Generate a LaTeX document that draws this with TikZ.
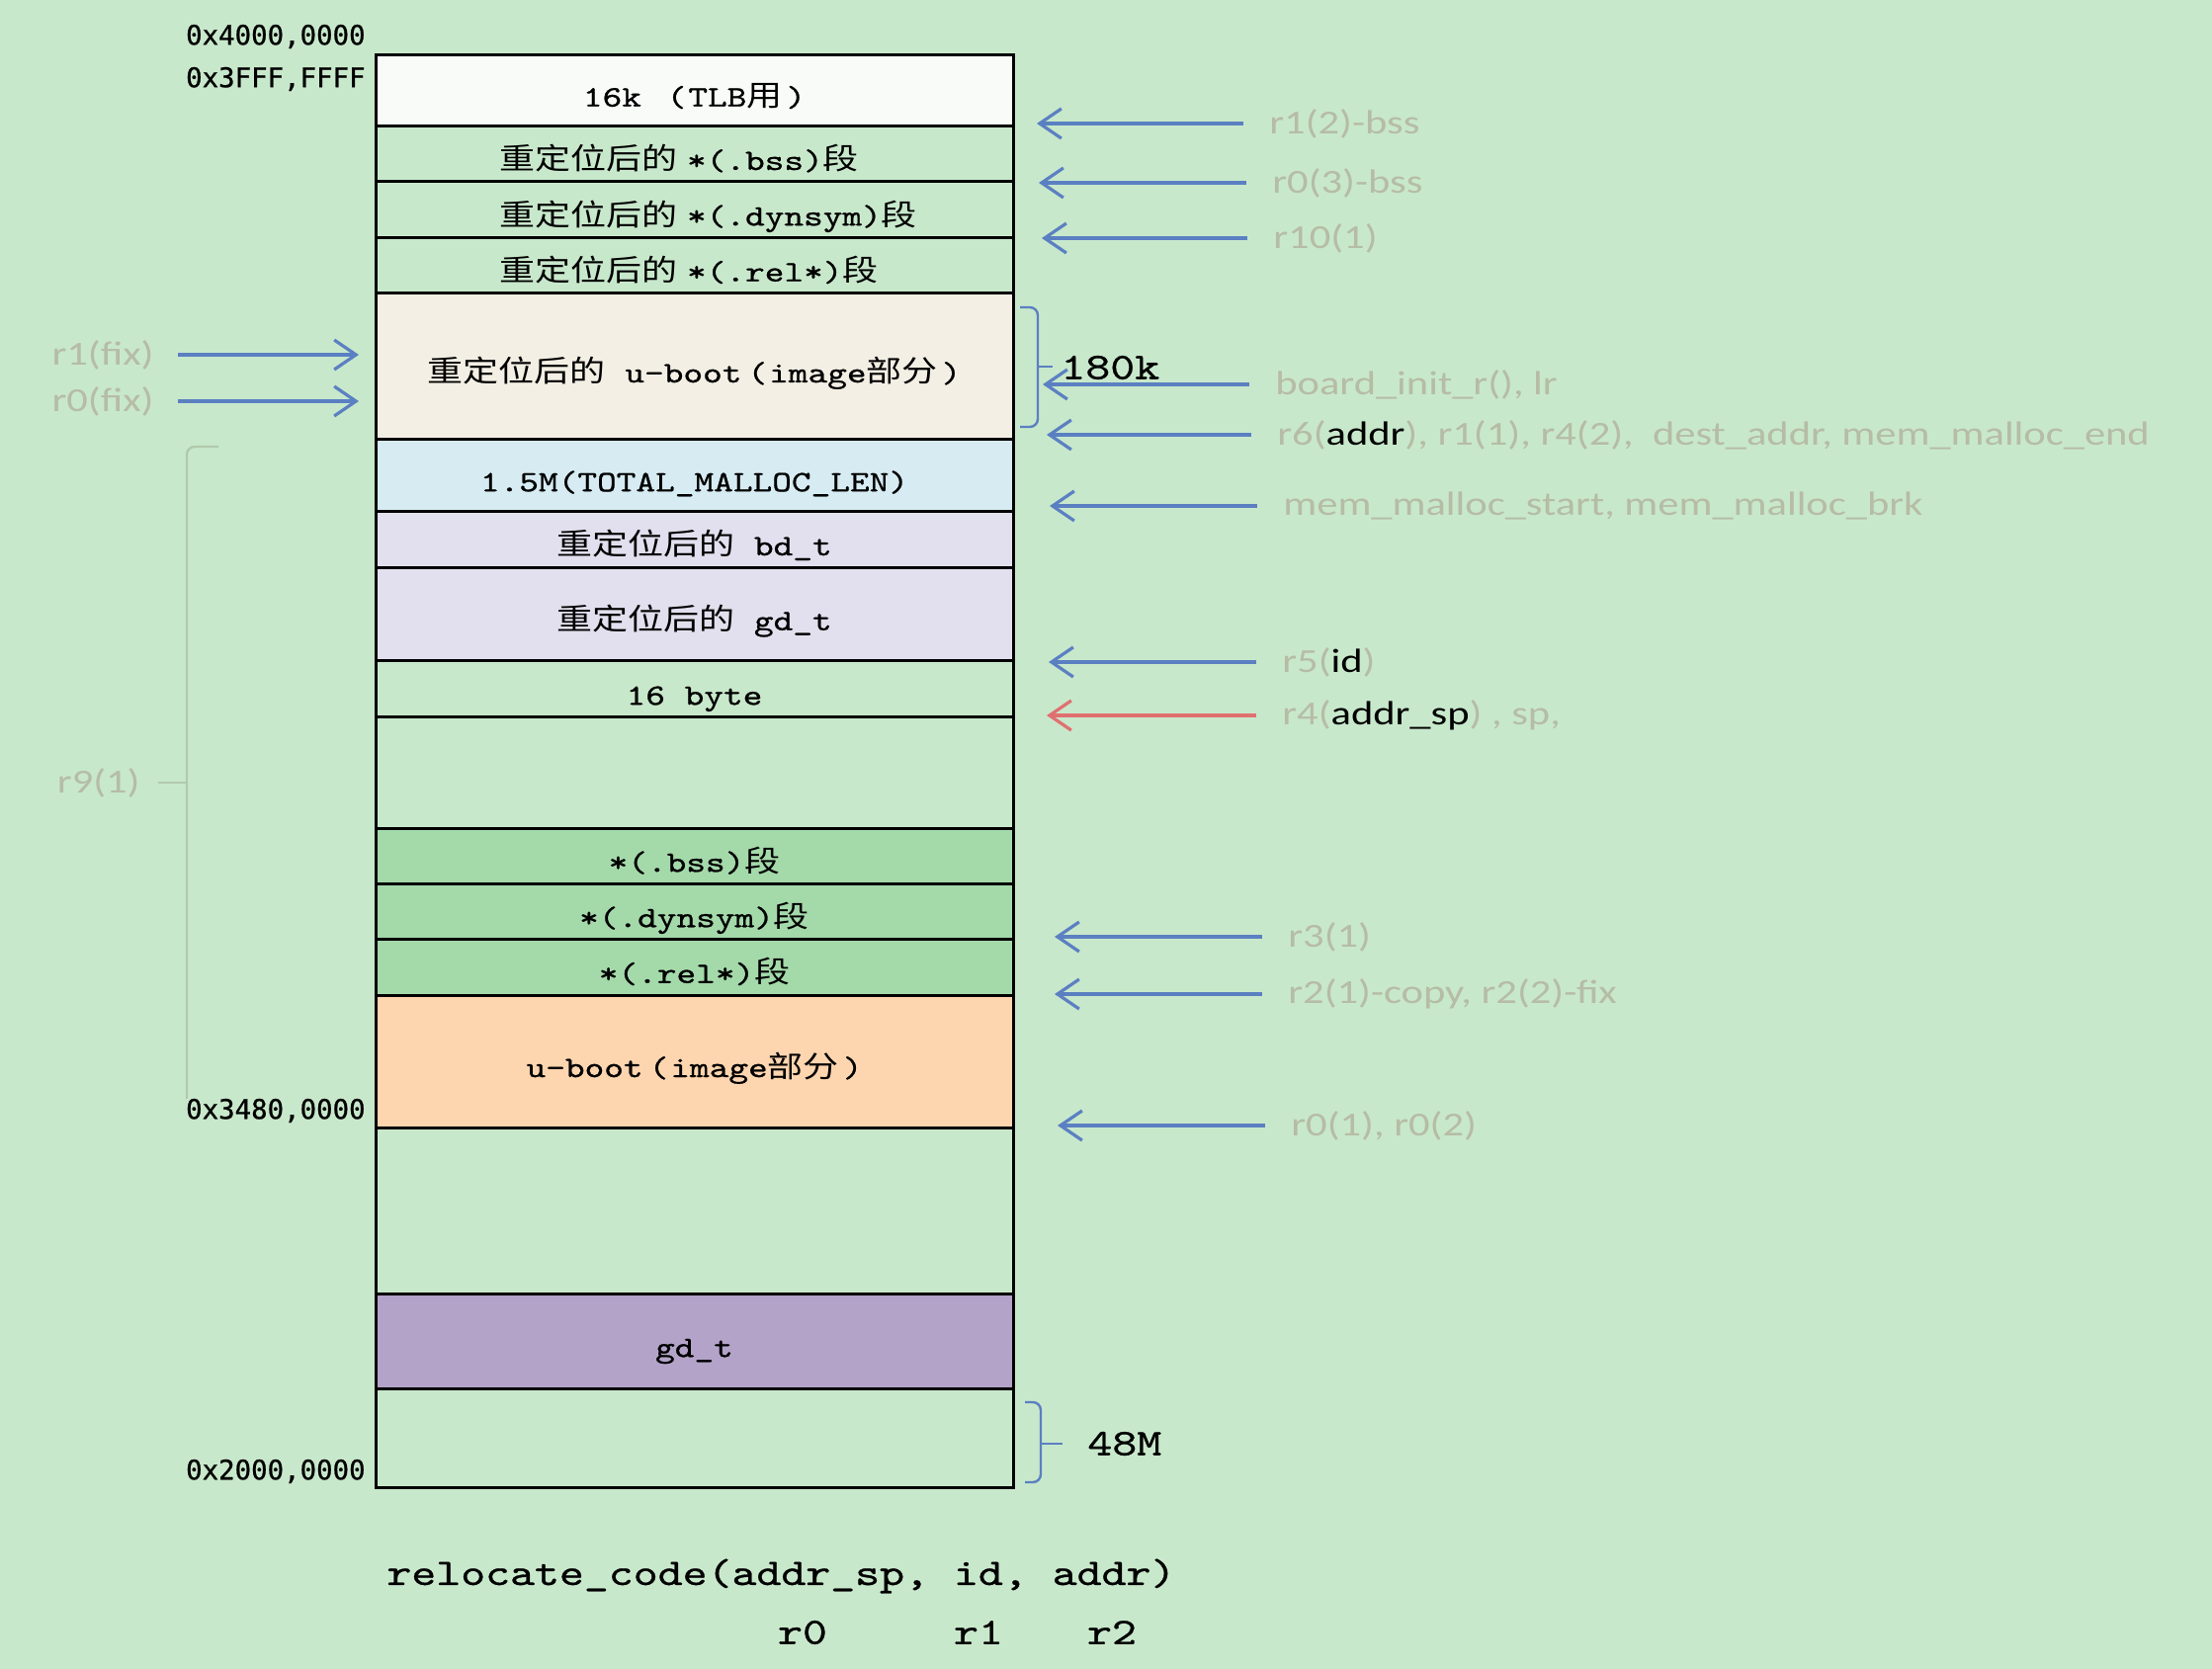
\documentclass[tikz,border=0pt]{standalone}
\usepackage{fontspec}
\usepackage{xcolor}
\usepackage{tikz}
\usetikzlibrary{positioning}
\usetikzlibrary{arrows.meta}

\newfontfamily\cjk[FakeStretch=1.2]{Noto Sans CJK SC}
\newfontfamily\boxmono[FakeStretch=1.25,FakeBold=0.8]{lmmono10-regular.otf}
\newfontfamily\lblfont[FakeStretch=1.25]{Carlito}
\newfontfamily\addrfont[FakeBold=0.8]{DejaVu Sans Mono}

\definecolor{bggreen}{HTML}{C8E8CB}
\definecolor{segwhite}{HTML}{F9FBF9}
\definecolor{segbeige}{HTML}{F3EFE4}
\definecolor{segblue}{HTML}{D6EBF2}
\definecolor{seglav}{HTML}{E2E0EE}
\definecolor{segmid}{HTML}{A4D9AA}
\definecolor{segpeach}{HTML}{FDD5AF}
\definecolor{segpurple}{HTML}{B4A3C9}
\definecolor{lblgray}{HTML}{B6BCA6}
\definecolor{arrblue}{HTML}{5B80C2}
\definecolor{arrred}{HTML}{E07070}
\definecolor{bracegray}{HTML}{B2C9AE}

\newcommand\lp{\kern3pt(\kern1pt}
\newcommand\rp{\kern2pt)}

\tikzset{
  seg/.style={draw=black, line width=1.5pt, fill=#1, minimum width=322.5pt, inner sep=0pt, outer sep=0pt, text height=16pt, text depth=0pt, font=\boxmono\fontsize{15}{18}\selectfont},
  lft/.style={text width=322.5pt, align=left, execute at begin node=\hspace*{62.5pt}},
  reg/.style={font=\lblfont\fontsize{17}{20}\selectfont, text=lblgray, inner sep=0pt},
  addr/.style={font=\addrfont\fontsize{13.7}{16}\selectfont, fill=bggreen, inner sep=0pt, anchor=east},
  code/.style={font=\boxmono\fontsize{19}{22}\selectfont, inner sep=0pt},
  ptr/.style={draw=#1, line width=1.6pt, -{Straight Barb[length=11pt,width=15pt]}},
  ptr/.default=arrblue,
  brk/.style={draw=#1, line width=1.2pt, rounded corners=4pt},
}

\begin{document}
\begin{tikzpicture}[x=0.5pt,y=-0.5pt]
\fill[bggreen] (0,0) rectangle (2238,1689);
\useasboundingbox (0,0) rectangle (2238,1689);

% memory map, top to bottom
\node[seg=segwhite, minimum height=36.25pt] (tlb) at (702.5,91.75) {16k\ \lp TLB{\cjk 用}\rp};
\node[seg=bggreen, lft, minimum height=28pt, below=0pt of tlb] (rbss) {{\cjk 重定位后的}~*(.bss){\cjk 段}};
\node[seg=bggreen, lft, minimum height=28.25pt, below=0pt of rbss] (rdyn) {{\cjk 重定位后的}~*(.dynsym){\cjk 段}};
\node[seg=bggreen, lft, minimum height=28.25pt, below=0pt of rdyn] (rrel) {{\cjk 重定位后的}~*(.rel*){\cjk 段}};
\node[seg=segbeige, minimum height=74pt, below=0pt of rrel] (rboot) {{\cjk 重定位后的} u-boot\lp image{\cjk 部分}\rp};
\node[seg=segblue, minimum height=36.25pt, below=0pt of rboot] (malloc) {1.5M(TOTAL\_MALLOC\_LEN)};
\node[seg=seglav, minimum height=28.5pt, below=0pt of malloc] (rbd) {{\cjk 重定位后的} bd\_t};
\node[seg=seglav, minimum height=47.25pt, below=0pt of rbd] (rgd) {{\cjk 重定位后的} gd\_t};
\node[seg=bggreen, minimum height=28.25pt, below=0pt of rgd] (pad) {16 byte};
\node[seg=bggreen, minimum height=56.5pt, below=0pt of pad] (gap1) {};
\node[seg=segmid, minimum height=27.75pt, below=0pt of gap1] (bss) {*(.bss){\cjk 段}};
\node[seg=segmid, minimum height=28.25pt, below=0pt of bss] (dyn) {*(.dynsym){\cjk 段}};
\node[seg=segmid, minimum height=28.25pt, below=0pt of dyn] (rel) {*(.rel*){\cjk 段}};
\node[seg=segpeach, minimum height=67pt, below=0pt of rel] (boot) {u-boot\lp image{\cjk 部分}\rp};
\node[seg=bggreen, minimum height=84.25pt, below=0pt of boot] (gap2) {};
\node[seg=segpurple, minimum height=47.75pt, below=0pt of gap2] (gd) {gd\_t};
\node[seg=bggreen, minimum height=50.25pt, below=0pt of gd] (low) {};

% left side
\node[reg, anchor=east] (fx1) at (156,359) {r1(fix)};
\node[reg, anchor=east] (fx0) at (156,406) {r0(fix)};
\coordinate (q1) at (363,359);
\coordinate (q0) at (363,406);
\draw[ptr, shorten <=12pt] (fx1.east) -- (q1);
\draw[ptr, shorten <=12pt] (fx0.east) -- (q0);

\draw[brk=bracegray] (221,452) -- (189,452) -- (189,1132) -- (221,1132);
\draw[bracegray, line width=1.2pt] (189,792) -- (160,792);
\node[reg, anchor=east] (r9) at (142,792) {r9(1)};

% addresses
\node[addr] (a4000) at (370,37) {0x4000,0000};
\node[addr] (a3fff) at (370,80) {0x3FFF,FFFF};
\node[addr] (a3480) at (370,1124) {0x3480,0000};
\node[addr] (a2000) at (370,1489) {0x2000,0000};

% sizes
\draw[brk=arrblue] (1032,311) -- (1050,311) -- (1050,432) -- (1032,432);
\draw[arrblue, line width=1.2pt] (1050,371) -- (1065,371);
\node[code, anchor=west] (k180) at (1073,372) {180k};
\draw[brk=arrblue] (1037,1419) -- (1053,1419) -- (1053,1500) -- (1037,1500);
\draw[arrblue, line width=1.2pt] (1053,1461) -- (1075,1461);
\node[code, anchor=west] (m48) at (1100,1461) {48M};

% right side
\coordinate (p1) at (1049,125);
\coordinate (p2) at (1051,185);
\coordinate (p3) at (1054,241);
\coordinate (p4) at (1055,389);
\coordinate (p5) at (1059,440);
\coordinate (p6) at (1062,512);
\coordinate (p7) at (1061,670);
\coordinate (p8) at (1059,724);
\coordinate (p9) at (1067,948);
\coordinate (p10) at (1067,1006);
\coordinate (p11) at (1070,1139);

\node[reg, anchor=west] (l1) at (1284,125) {r1(2)-bss};
\node[reg, anchor=west] (l2) at (1287,185) {r0(3)-bss};
\node[reg, anchor=west] (l3) at (1288,241) {r10(1)};
\node[reg, anchor=west] (l4) at (1290,389) {board\_init\_r(), lr};
\node[reg, anchor=west] (l5) at (1292,440) {r6(\textcolor{black}{addr}), r1(1), r4(2),\ \ dest\_addr, mem\_malloc\_end};
\node[reg, anchor=west] (l6) at (1298,512) {mem\_malloc\_start, mem\_malloc\_brk};
\node[reg, anchor=west] (l7) at (1297,670) {r5(\textcolor{black}{id})};
\node[reg, anchor=west] (l8) at (1297,724) {r4(\textcolor{black}{addr\_sp}) , sp,};
\node[reg, anchor=west] (l9) at (1303,948) {r3(1)};
\node[reg, anchor=west] (l10) at (1303,1006) {r2(1)-copy, r2(2)-fix};
\node[reg, anchor=west] (l11) at (1306,1139) {r0(1), r0(2)};

\foreach \i in {1,2,3,4,5,6,7,9,10,11}
  \draw[ptr, shorten <=13pt] (l\i.west) -- (p\i);
\draw[ptr=arrred, shorten <=13pt] (l8.west) -- (p8);

% call
\node[code, anchor=west] (call) at (391,1595) {relocate\_code(addr\_sp, id, addr)};
\node[code] (c0) at (812,1652) {r0};
\node[code] (c1) at (990,1652) {r1};
\node[code] (c2) at (1125,1652) {r2};

\end{tikzpicture}
\end{document}
